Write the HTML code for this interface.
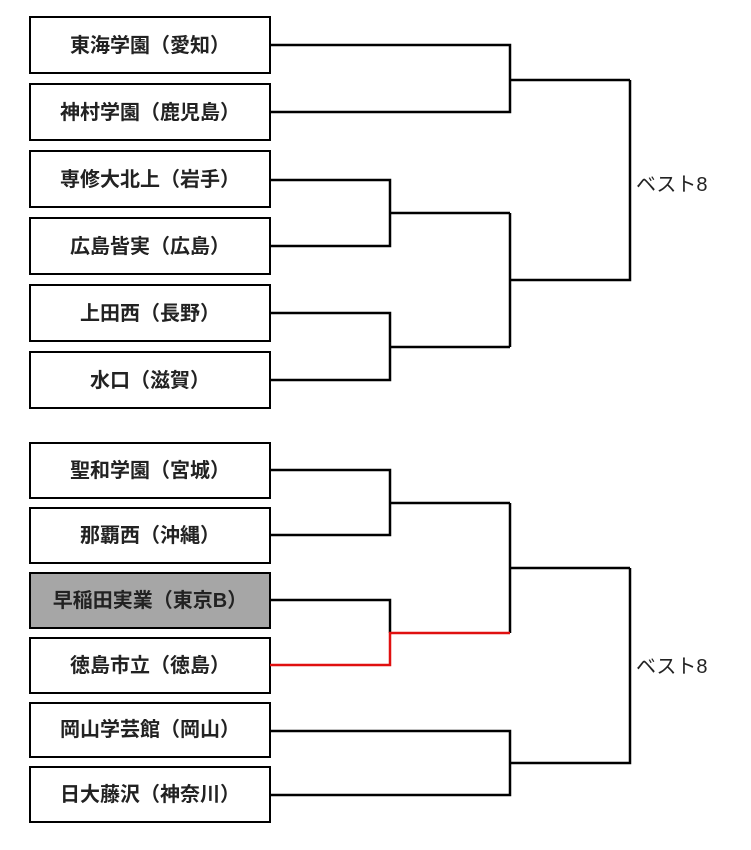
<!DOCTYPE html>
<html><head><meta charset="utf-8"><style>
html,body{margin:0;padding:0;background:#fff;}
svg{display:block}
text{font-family:"Liberation Sans","Noto Sans CJK JP",sans-serif;}
.n{font-size:20px;font-weight:bold;fill:#222;text-anchor:middle}
.b{font-size:20px;fill:#222}
</style></head><body>
<svg width="751" height="850" viewBox="0 0 751 850" xmlns="http://www.w3.org/2000/svg">
<g fill="#fff" stroke="#000" stroke-width="2">
<rect x="30" y="17" width="240" height="56"/>
<rect x="30" y="84" width="240" height="56"/>
<rect x="30" y="151" width="240" height="56"/>
<rect x="30" y="218" width="240" height="56"/>
<rect x="30" y="285" width="240" height="56"/>
<rect x="30" y="352" width="240" height="56"/>
<rect x="30" y="443" width="240" height="55"/>
<rect x="30" y="508" width="240" height="55"/>
<rect x="30" y="573" width="240" height="55" fill="#a6a6a6"/>
<rect x="30" y="638" width="240" height="55"/>
<rect x="30" y="703" width="240" height="54"/>
<rect x="30" y="767" width="240" height="55"/>
</g>
<g class="n">
<text x="150" y="52">東海学園（愛知）</text>
<text x="150" y="119">神村学園（鹿児島）</text>
<text x="150" y="186">専修大北上（岩手）</text>
<text x="150" y="253">広島皆実（広島）</text>
<text x="150" y="320">上田西（長野）</text>
<text x="150" y="387">水口（滋賀）</text>
<text x="150" y="477">聖和学園（宮城）</text>
<text x="150" y="542">那覇西（沖縄）</text>
<text x="150" y="607">早稲田実業（東京B）</text>
<text x="150" y="672">徳島市立（徳島）</text>
<text x="150" y="736">岡山学芸館（岡山）</text>
<text x="150" y="801">日大藤沢（神奈川）</text>
</g>
<g fill="none" stroke="#000" stroke-width="2.5">
<polyline points="270,45 510,45 510,112 270,112"/>
<line x1="510" y1="80" x2="630" y2="80"/>
<polyline points="270,180 390,180 390,246 270,246"/>
<polyline points="270,313 390,313 390,380 270,380"/>
<line x1="390" y1="213" x2="510" y2="213"/>
<line x1="390" y1="347" x2="510" y2="347"/>
<line x1="510" y1="213" x2="510" y2="347"/>
<polyline points="510,280 630,280 630,80"/>
<polyline points="270,470 390,470 390,535 270,535"/>
<line x1="390" y1="503" x2="510" y2="503"/>
<polyline points="270,600 390,600 390,633"/>
<line x1="510" y1="503" x2="510" y2="633"/>
<line x1="510" y1="568" x2="630" y2="568"/>
<polyline points="270,731 510,731 510,795 270,795"/>
<polyline points="510,763 630,763 630,568"/>
</g>
<g fill="none" stroke="#e01010" stroke-width="2.5">
<polyline points="270,665 390,665 390,633 510,633"/>
</g>
<text class="b" x="636" y="191">ベスト8</text>
<text class="b" x="636" y="673">ベスト8</text>
</svg>
</body></html>
